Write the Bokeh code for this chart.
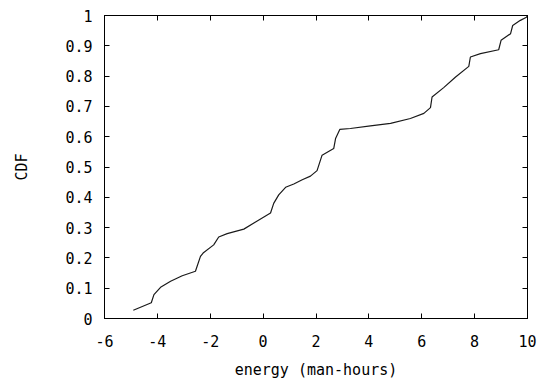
from bokeh.plotting import figure
from bokeh.models import LinearAxis, FixedTicker, Range1d
from bokeh.embed import file_html
from bokeh.resources import INLINE

energy = [-4.91, -4.23, -4.13, -3.88, -3.50, -3.06, -2.56, -2.37, -2.27, -1.87,
          -1.68, -1.36, -0.73, -0.35, 0.28, 0.40, 0.59, 0.85, 1.16, 1.48,
          1.79, 2.04, 2.23, 2.67, 2.74, 2.90, 3.30, 4.06, 4.82, 5.57,
          6.08, 6.33, 6.39, 6.83, 7.28, 7.78, 7.84, 8.22, 8.91, 9.00,
          9.36, 9.44, 9.73, 9.96, 10.0]
cdf = [0.027, 0.052, 0.079, 0.103, 0.123, 0.141, 0.156, 0.205, 0.216, 0.243,
       0.269, 0.280, 0.295, 0.315, 0.348, 0.380, 0.408, 0.433, 0.444, 0.458,
       0.470, 0.488, 0.539, 0.561, 0.594, 0.624, 0.627, 0.636, 0.644, 0.660,
       0.677, 0.696, 0.731, 0.762, 0.797, 0.832, 0.863, 0.874, 0.887, 0.918,
       0.940, 0.967, 0.984, 0.994, 1.0]

x_ticks = [-6, -4, -2, 0, 2, 4, 6, 8, 10]
x_labels = ["-6", "-4", "-2", "0", "2", "4", "6", "8", "10"]
y_ticks = [0, 0.1, 0.2, 0.3, 0.4, 0.5, 0.6, 0.7, 0.8, 0.9, 1]
y_labels = ["0", "0.1", "0.2", "0.3", "0.4", "0.5", "0.6", "0.7", "0.8", "0.9", "1"]

FONT = "DejaVu Sans Mono"

p = figure(width=547, height=381, x_range=Range1d(-6, 10), y_range=Range1d(0, 1),
           output_backend="svg", toolbar_location=None,
           min_border_left=104, min_border_right=20, min_border_top=15, min_border_bottom=62,
           x_axis_label="energy (man-hours)", y_axis_label="CDF")
p.grid.visible = False
p.outline_line_color = "black"
p.outline_line_width = 1
p.background_fill_color = "white"
p.border_fill_color = "white"

def style(ax, ticks, labels=True):
    ax.ticker = FixedTicker(ticks=ticks)
    ax.minor_tick_line_color = None
    ax.major_tick_in = 5
    ax.major_tick_out = 0
    ax.major_tick_line_color = "black"
    ax.axis_line_color = "black"
    ax.major_label_text_font = FONT
    if labels:
        ax.major_label_text_font_size = "15px"
        ax.major_label_text_color = "black"
    else:
        ax.major_label_text_font_size = "1px"
        ax.major_label_text_color = None
    ax.axis_label_text_font = FONT
    ax.axis_label_text_font_size = "15px"
    ax.axis_label_text_font_style = "normal"
    ax.axis_label_text_color = "black"

style(p.xaxis[0], x_ticks)
p.xaxis[0].major_label_overrides = dict(zip(x_ticks, x_labels))
p.xaxis[0].major_label_standoff = 16
p.xaxis[0].axis_label_standoff = 11
style(p.yaxis[0], y_ticks)
p.yaxis[0].major_label_overrides = dict(zip(y_ticks, y_labels))
p.yaxis[0].major_label_standoff = 12
p.yaxis[0].axis_label_standoff = 31

top = LinearAxis(major_label_standoff=0)
style(top, x_ticks, labels=False)
p.add_layout(top, "above")
right = LinearAxis(major_label_standoff=0)
style(right, y_ticks, labels=False)
p.add_layout(right, "right")

p.line(energy, cdf, line_color="#1a1a1a", line_width=1.2)

open("out.html", "w").write(file_html(p, INLINE))
